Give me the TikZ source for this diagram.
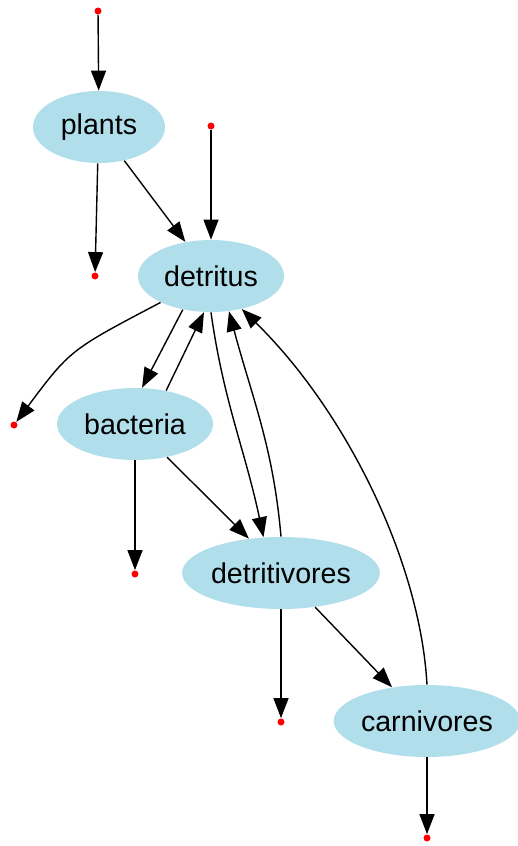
\documentclass[tikz,border=0pt]{standalone}
\usepackage{fontspec}
\setmainfont{Liberation Sans}
\usepackage{tikz}
\usetikzlibrary{arrows.meta, shapes.geometric, calc}
\definecolor{nodeblue}{RGB}{176,223,235}
\newcommand{\figArrow}{{Triangle[length=10pt,width=7.5pt]}}
\tikzset{
	pool/.style={ellipse, fill=nodeblue, inner sep=0pt, minimum height=36pt},
	sinkdot/.style={circle, fill=red, inner sep=0pt, minimum size=3.5pt},
	flow/.style={-\figArrow, line width=0.7pt}
}

\begin{document}
\begin{tikzpicture}[x=0.5pt, y=-0.5pt, font=\fontsize{14.3pt}{16pt}\selectfont]
	\useasboundingbox (0,0) rectangle (518,846);

	\node[pool, minimum width=66pt]	(plants)		at (99,127)	{plants};
	\node[pool, minimum width=73pt]	(detritus)		at (211,276)	{detritus};
	\node[pool, minimum width=78pt]	(bacteria)		at (135,424)	{bacteria};
	\node[pool, minimum width=97pt]	(detritivores)	at (281,573)	{detritivores};
	\node[pool, minimum width=92pt]	(carnivores)	at (427,721)	{carnivores};

	\node[sinkdot] (inPlants)		at (98,11) {};
	\node[sinkdot] (inDetritus)		at (211,126) {};
	\node[sinkdot] (outPlants)		at (95,276) {};
	\node[sinkdot] (outDetritus)		at (14,425) {};
	\node[sinkdot] (outBacteria)		at (135,574) {};
	\node[sinkdot] (outDetritivores)	at (281,722) {};
	\node[sinkdot] (outCarnivores)	at (427,838) {};

	\draw[flow]	(inPlants) -- (plants);
	\draw[flow]	(inDetritus) -- (detritus);
	\draw[flow]	(plants.268) -- (outPlants);
	\draw[flow]	(plants) -- (detritus);
		\draw[flow]	(detritus) .. controls (70,350) .. (outDetritus);
	\draw[flow]	(detritus.230) -- (bacteria.79);
	\draw[flow]	(bacteria.47) -- (detritus.259);
	\draw[flow]	(bacteria.270) -- (outBacteria);
	\draw[flow]	(bacteria.314) -- (detritivores.133);
		\draw[flow]	(detritus.270) to[out=-82, in=102] (detritivores.116);
		\draw[flow]	(detritivores.90) to[out=95, in=-75] (detritus.297);
	\draw[flow]	(detritivores.270) -- (outDetritivores);
	\draw[flow]	(detritivores.315) -- (carnivores.136);
		\draw[flow]	(carnivores.90) .. controls (420,560) and (345,410) .. (detritus.313);
	\draw[flow]	(carnivores.270) -- (outCarnivores);

\end{tikzpicture}
\end{document}
